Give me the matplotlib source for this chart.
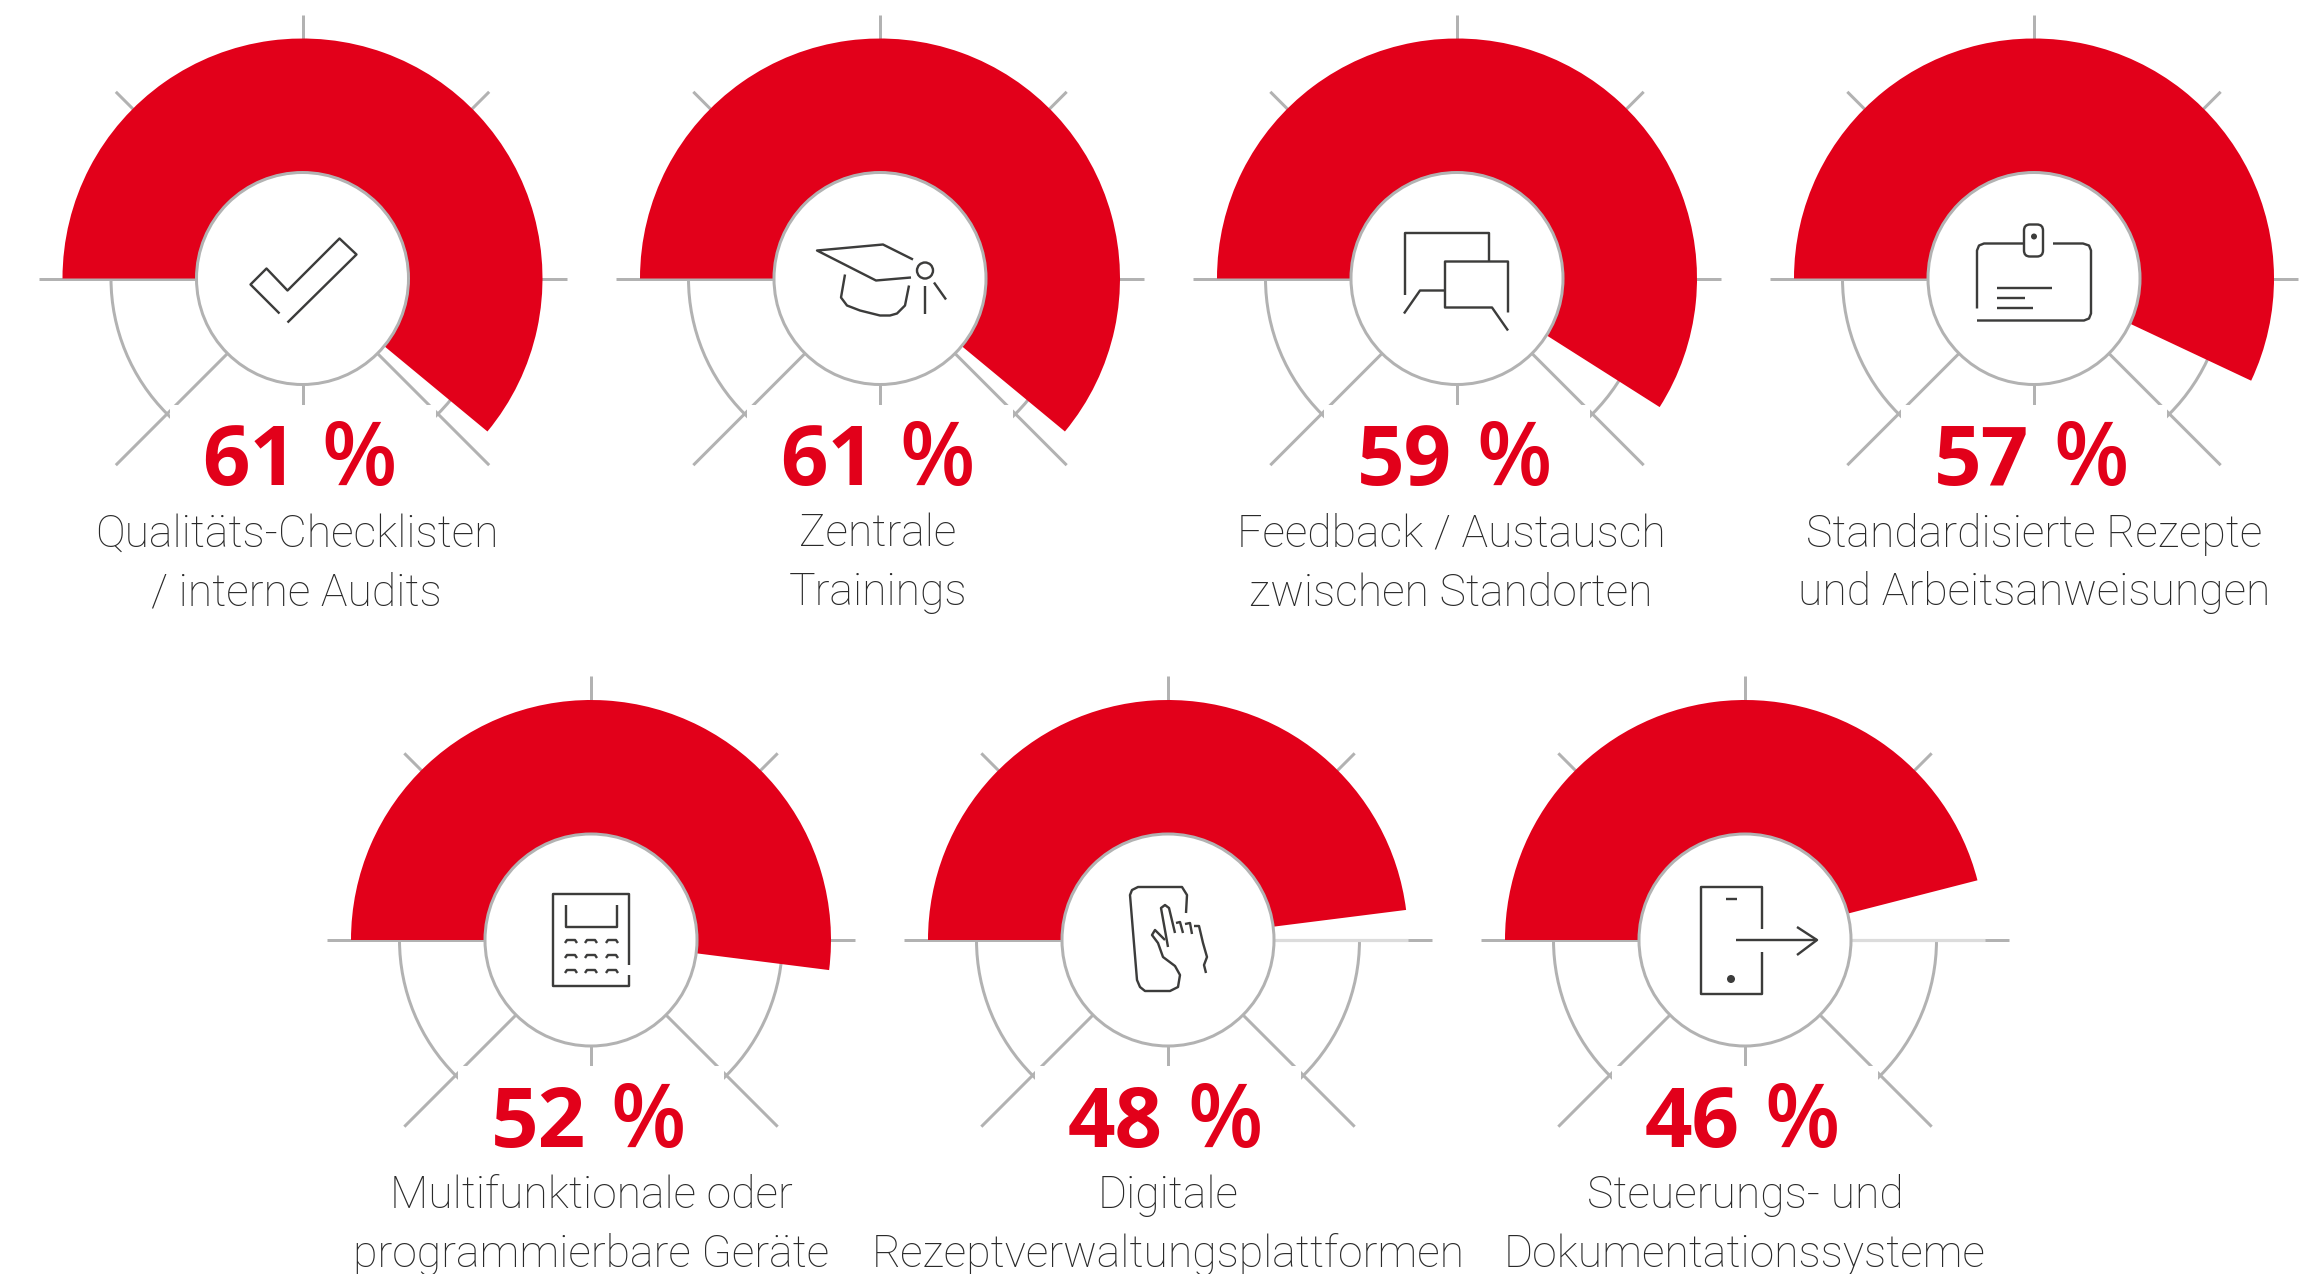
import matplotlib
matplotlib.use('Agg')
from matplotlib import pyplot as plt
from matplotlib.patches import Wedge, Circle, Rectangle, FancyBboxPatch

RED = '#e2001a'
GREY = '#b2b2b2'
LIGHTGREY = '#dcdcdc'
DARK = '#3c3c3b'
LABELCOLOR = '#2a2a2a'  # Roboto Light renders paler than the original face
PX = 0.72  # one pixel in points at dpi 100

R_OUTER = 240
R_INNER = 106
R_ARC = 193
R_TICK = 264

values = [61, 61, 59, 57, 52, 48, 46]
value_labels = ['61', '61', '59', '57', '52', '48', '46']
label_line1 = ['Qualitäts-Checklisten', 'Zentrale', 'Feedback / Austausch', 'Standardisierte Rezepte',
               'Multifunktionale oder', 'Digitale', 'Steuerungs- und']
label_line2 = ['/ interne Audits', 'Trainings', 'zwischen Standorten', 'und Arbeitsanweisungen',
               'programmierbare Geräte', 'Rezeptverwaltungsplattformen', 'Dokumentationssysteme']

centers = [(302.5, 278.5), (880, 278.5), (1457, 278.5), (2034, 278.5), (591, 940), (1168, 940), (1745, 940)]
label_shift = [-6, -2, -6, 0, 0, 0, 0]


def stroke(ax, pts, lw=2.4):
    xs = [p[0] for p in pts]
    ys = [p[1] for p in pts]
    ax.plot(xs, ys, color=DARK, lw=lw * PX, solid_capstyle='butt', solid_joinstyle='round', zorder=8)


# Icons, offsets in px from the circle centre
def icon_check(ax, x, y):
    pts = [(-23, 35), (-52, 6), (-36, -10), (-15, 12), (37, -40), (54, -24), (-15, 44)]
    stroke(ax, [(x + a, y + b) for a, b in pts])


def icon_cap(ax, x, y):
    for pts in [[(33, -19), (3, -34), (-63, -28), (-4, 2), (31, -1)],
                [(-35, -4), (-39, 19), (-33, 27), (-20, 32), (0, 37), (10, 37), (17, 35), (25, 27), (29, 7)],
                [(45, 7), (45, 35)],
                [(54, 4), (66, 21)]]:
        stroke(ax, [(x + a, y + b) for a, b in pts])
    ax.add_patch(Circle((x + 45, y - 8), 8, fc='none', ec=DARK, lw=2.4 * PX, zorder=8))


def icon_chat(ax, x, y):
    for pts in [[(-52, 16), (-52, -46), (32, -46), (32, -17)],
                [(-53, 35), (-37, 12), (-12, 12)],
                [(51, 34), (51, -17), (-12, -17), (-12, 29), (35, 29), (51, 52)]]:
        stroke(ax, [(x + a, y + b) for a, b in pts])


def icon_badge(ax, x, y):
    for pts in [[(-57, 30), (-57, -28), (-55, -33), (-50, -35), (-10, -35)],
                [(19, -35), (49, -35), (55, -33), (57, -28), (57, 35), (55, 40), (50, 42), (-57, 42)],
                [(-37, 9), (18, 9)],
                [(-37, 19), (-9, 19)],
                [(-37, 29), (-1, 29)]]:
        stroke(ax, [(x + a, y + b) for a, b in pts])
    ax.add_patch(FancyBboxPatch((x - 4, y - 48), 7, 20, boxstyle='round,pad=6,rounding_size=6',
                                fc='none', ec=DARK, lw=2.4 * PX, zorder=8))
    ax.add_patch(Circle((x, y - 42), 3, fc=DARK, ec='none', zorder=8))


def icon_calc(ax, x, y):
    for pts in [[(38, 25), (38, -46), (-38, -46), (-38, 46), (38, 46), (38, 35)],
                [(-25, -35), (-25, -13), (26, -13), (26, -35)]]:
        stroke(ax, [(x + a, y + b) for a, b in pts])
    for kx in (-20, 0, 21):
        for ky in (0, 15, 30):
            stroke(ax, [(x + kx + a, y + ky + b) for a, b in [(-6, 3), (-4, 0), (4, 0), (6, 3)]])


def icon_hand(ax, x, y):
    for pts in [[(18, -27), (19, -45), (14, -53), (-30, -53), (-36, -50), (-38, -45), (-31, 40), (-28, 47), (-23, 51),
                 (2, 51), (10, 47), (12, 35), (7, 26), (-5, 17), (-10, 3), (-16, -5), (-13, -10), (-3, 0)],
                [(0, 7), (-7, -32), (-3, -35), (1, -32), (7, -7)],
                [(8, -17), (12, -18), (15, -7)],
                [(17, -16), (22, -17), (24, -6)],
                [(26, -14), (31, -14), (35, 3), (39, 17), (36, 25), (38, 33)]]:
        stroke(ax, [(x + a, y + b) for a, b in pts])


def icon_exit(ax, x, y):
    for pts in [[(17, -11), (17, -53), (-44, -53), (-44, 54), (17, 54), (17, 12)],
                [(-19, -41), (-8, -41)],
                [(-9, 0), (72, 0)],
                [(52, -13), (72, 0), (52, 15)]]:
        stroke(ax, [(x + a, y + b) for a, b in pts])
    ax.add_patch(Circle((x - 14, y + 39), 4, fc=DARK, ec='none', zorder=8))


icons = [icon_check, icon_cap, icon_chat, icon_badge, icon_calc, icon_hand, icon_exit]

fig = plt.figure(figsize=(23.15, 12.74), dpi=100)
ax = fig.add_axes([0, 0, 1, 1])
ax.set_xlim(0, 2315)
ax.set_ylim(1274, 0)  # pixel coordinates, y down
ax.axis('off')

for i, v in enumerate(values):
    x, y = centers[i]
    # spokes every 45 degrees
    for a, b in [(1, 0), (-1, 0), (0, 1), (0, -1)]:
        ax.plot([x, x + a * R_TICK], [y, y + b * R_TICK], color=GREY, lw=3 * PX, zorder=1, solid_capstyle='butt')
    d = R_TICK * 0.7071
    for a, b in [(1, 1), (-1, 1), (1, -1), (-1, -1)]:
        ax.plot([x, x + a * d], [y, y + b * d], color=GREY, lw=3 * PX, zorder=1, solid_capstyle='butt')
    # lower half guide ring
    ax.add_patch(Wedge((x, y), R_ARC, 0, 180, width=3, fc=GREY, ec='none', zorder=1))
    # mask behind the text block
    ax.add_patch(Rectangle((x - 133, y + 126), 266, 140, fc='white', ec='none', zorder=2))
    # the value wedge, clockwise from the left
    ax.add_patch(Wedge((x, y), R_OUTER, 180, 180 + v * 3.6, width=R_OUTER - R_INNER, fc=RED, ec='none', zorder=3))
    if v < 50:
        ax.plot([x + R_INNER, x + R_OUTER], [y, y], color=LIGHTGREY, lw=3.2 * PX, zorder=4, solid_capstyle='butt')
    ax.add_patch(Circle((x, y), R_INNER, fc='white', ec=GREY, lw=3 * PX, zorder=5))
    icons[i](ax, x, y)

    ax.text(x - 100, y + 207, value_labels[i], color=RED, fontsize=60, family='Open Sans', weight='bold',
            ha='left', va='baseline', zorder=9)
    ax.text(x + 19, y + 207, '%', color=RED, fontsize=63, family='Open Sans', weight='semibold',
            ha='left', va='baseline', zorder=9)
    ax.text(x + label_shift[i], y + 268, label_line1[i], color=LABELCOLOR, fontsize=32, family='Roboto', weight='light',
            ha='center', va='baseline', zorder=9)
    ax.text(x + label_shift[i], y + 327, label_line2[i], color=LABELCOLOR, fontsize=32, family='Roboto', weight='light',
            ha='center', va='baseline', zorder=9)

fig.savefig('out.png', dpi=100)
